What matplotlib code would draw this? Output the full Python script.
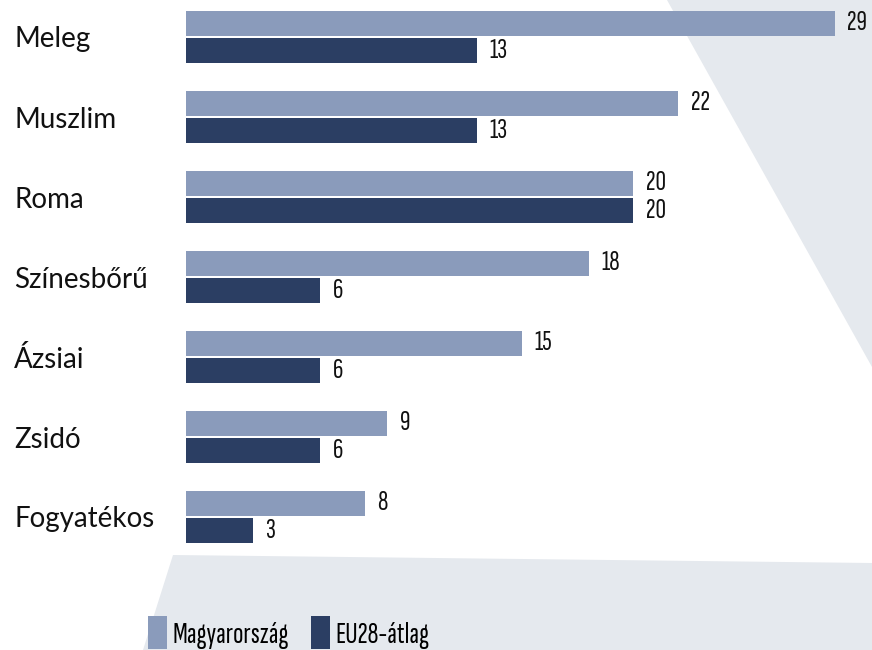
import matplotlib
matplotlib.use("Agg")
import matplotlib.pyplot as plt
from matplotlib.patches import Polygon, Patch

categories = ["Meleg", "Muszlim", "Roma", "Színesbőrű", "Ázsiai", "Zsidó", "Fogyatékos"]
hungary = [29, 22, 20, 18, 15, 9, 8]
eu28 = [13, 13, 20, 6, 6, 6, 3]
series_names = ["Magyarország", "EU28-átlag"]

light = "#8a9bbb"
dark = "#2b3e63"
bg_gray = "#e5e9ee"
narrow = ["Sofia Sans Extra Condensed", "Sofia Sans Condensed", "DejaVu Sans"]

W, H = 872, 650
fig = plt.figure(figsize=(W / 100, H / 100), dpi=100)

# background shapes (pixel coords -> figure fraction)
def px(points):
    return [(x / W, 1 - y / H) for x, y in points]

fig.add_artist(Polygon(px([(667, 0), (872, 0), (872, 367)]), closed=True,
                       facecolor=bg_gray, edgecolor="none", zorder=0))
fig.add_artist(Polygon(px([(173, 555), (872, 563), (872, 650), (143, 650)]), closed=True,
                       facecolor=bg_gray, edgecolor="none", zorder=0))

# axes placed in pixels: x from 186, y from -3 to 557
ax = fig.add_axes([186 / W, (H - 557) / H, 671 / W, 560 / H])
ax.patch.set_alpha(0)

y = list(range(len(categories)))
bh = 25 / 80
off = 13.5 / 80
ax.barh([i - off for i in y], hungary, height=bh, color=light, label=series_names[0])
ax.barh([i + off for i in y], eu28, height=bh, color=dark, label=series_names[1])

for i in y:
    ax.annotate(str(hungary[i]), (hungary[i], i - off), xytext=(9, 0), textcoords="offset points",
                va="center", ha="left", fontsize=21, family=narrow, color="#111111")
    ax.annotate(str(eu28[i]), (eu28[i], i + off), xytext=(9, 0), textcoords="offset points",
                va="center", ha="left", fontsize=21, family=narrow, color="#111111")

ax.set_xlim(0, 30)
ax.set_ylim(6.5, -0.5)
ax.set_yticks(y)
ax.set_yticklabels(categories, fontsize=20, family="Lato", color="#111111", ha="left")
ax.tick_params(axis="y", length=0, pad=172 * 0.72)
ax.set_xticks([])
for s in ax.spines.values():
    s.set_visible(False)

handles = [Patch(facecolor=light), Patch(facecolor=dark)]
leg = fig.legend(handles, series_names, loc="upper left", bbox_to_anchor=(145 / W, 1 - 613 / H),
                 ncol=2, frameon=False, prop={"family": narrow, "size": 22},
                 handlelength=0.62, handleheight=1.3, handletextpad=0.17, columnspacing=0.75,
                 borderpad=0.1, borderaxespad=0)

fig.savefig("out.png", dpi=100)
